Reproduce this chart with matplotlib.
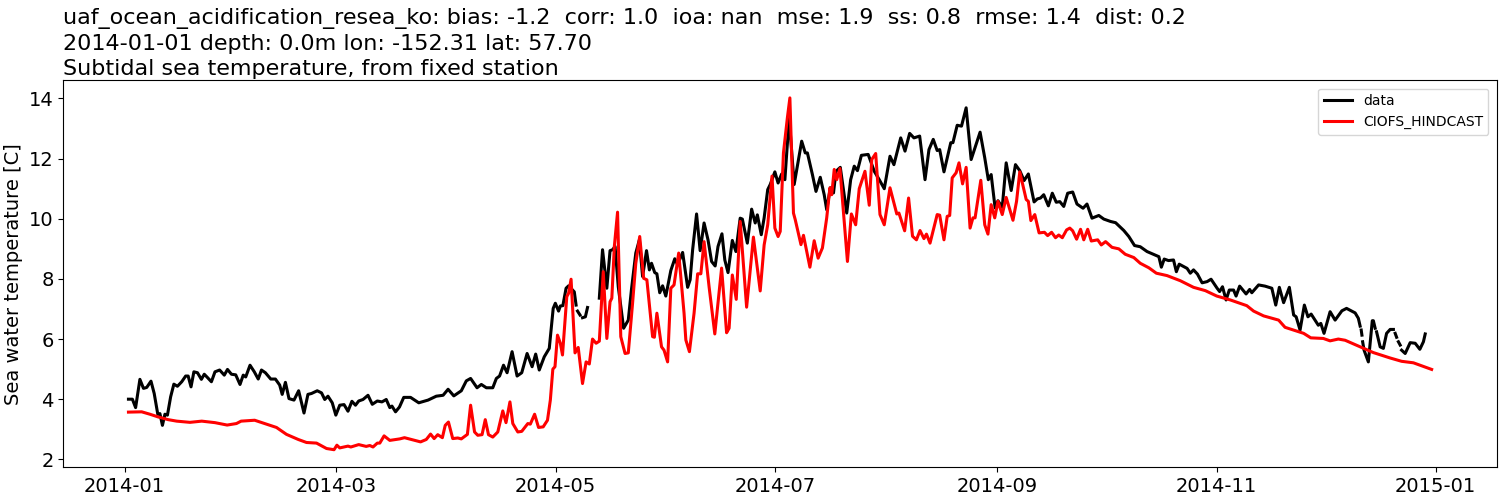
import numpy as np
import matplotlib
matplotlib.use("Agg")
import matplotlib.pyplot as plt
import matplotlib.dates as mdates
from datetime import datetime, timedelta

nan = float("nan")
start_date = datetime(2014, 1, 1)
# calibration of the day values
day_offset = 0.6
day_scale = 0.9953

data_days = [0.5,1.6,2.5,3.7,4.7,5.6,6.8,7.7,8.7,9.3,10,10.7,11.4,12.3,13.2,14.2,15.4,16.5,17.2,18,18.8,19.8,20.9,21.7,22.6,23.7,24.7,26,27.3,28.2,29.3,30.5,31.7,32.6,33.3,34.5,35.7,36.8,37.7,38.8,40.3,41.6,42.8,43.5,44.4,45.4,46.8,48.1,49.6,50.7,51.7,53.3,54.5,55.4,56.3,57.5,58.5,59.6,60.8,61.9,63,64,64.9,66.1,67.5,68.7,70.1,71.4,72.6,73.6,74.2,75.2,76.3,77.5,79.4,81.7,84.3,86.6,88.5,89.9,91.5,93.6,95,96.2,98,99.2,100.6,102.4,103.4,104.3,105.4,106.4,107.8,109.2,110.5,112,113.4,114.4,115.4,116.8,118.2,119.3,119.9,120.8,121.3,122,122.9,123.6,125.2,125.7,125.9,126.1,126.8,127.1,127.5,128.3,128.9,130,132.2,133.1,134.3,135.2,135.9,136.6,137.5,139,140.3,141.2,142.4,143.4,144.3,145.4,146.2,146.8,147.7,148.3,149.1,149.9,150.8,152.2,153.3,154.1,155.5,156.9,157.6,158.3,159.4,160.4,161.5,162.6,163.6,164.6,165.4,166.5,167.3,168.2,169.4,170.4,171.6,172.2,173.6,174.8,175.8,176.4,177.5,178.3,179.3,180,181.3,182.2,183.2,184.1,185.3,186.7,188.8,189.8,190.4,191.8,192.8,194,195.1,195.8,196.8,197.7,198.4,199.6,201.4,202.5,203.5,204.4,205.5,207.4,209.1,210.5,211.9,213.5,214.6,216.5,217.7,219,220.2,221.8,223.3,224.4,225.6,226.7,227.4,228.6,230.5,231.1,232.3,233.5,234.8,236.2,238.7,240,241,241.8,242.9,243.7,244.9,246,247.4,248.6,249.8,251,252.2,253.8,254.7,255.6,256.5,257.8,258.9,260,261,262.1,263.2,264.6,265.8,267.5,268.6,270,271.9,273.3,275.2,276.6,278.9,280.3,281.9,283.5,285.4,288.7,289.4,290.2,291.4,292.8,293.6,294.4,296.6,297.5,298.4,299.5,300.8,302.2,303.3,305,305.7,306.5,307.5,308.4,309.6,310.3,311.3,313.1,314.1,314.7,316.6,318.4,320.3,321.4,322.4,323.6,325.2,326.4,327.1,328.2,329.4,330.4,331.3,333.3,334,334.9,336.6,338,339.9,341.2,343.6,344.5,345,345.15,345.3,345.5,345.6,345.7,346.1,347.3,348.4,348.7,349.2,349.4,349.6,350.6,351.5,352.4,353.4,354.3,354.55,354.8,355.2,355.45,355.7,356.2,356.4,356.6,357.6,359,360.4,361.7,362.7,363.2]
data_temp = [4.0,4.0,3.72,4.66,4.36,4.39,4.6,4.19,3.5,3.52,3.13,3.5,3.47,4.08,4.5,4.43,4.58,4.77,4.77,4.41,4.91,4.88,4.66,4.83,4.72,4.58,4.91,4.97,4.8,4.99,4.83,4.81,4.49,4.8,4.74,5.13,4.91,4.67,4.97,4.88,4.67,4.67,4.47,4.16,4.56,4.02,3.97,4.28,3.54,4.16,4.19,4.28,4.21,3.99,4.1,3.88,3.47,3.8,3.82,3.6,3.93,3.8,3.94,3.99,4.13,3.83,3.94,3.91,3.99,3.72,3.77,3.58,3.74,4.06,4.06,3.88,3.97,4.1,4.13,4.33,4.11,4.28,4.61,4.69,4.38,4.49,4.38,4.38,4.69,4.77,5.13,4.88,5.58,4.77,4.88,5.52,5.08,5.5,4.97,5.41,5.69,7.02,7.19,6.93,7.1,7.11,7.69,7.77,7.57,7.13,nan,6.93,6.8,nan,6.71,6.74,7.05,nan,7.36,8.97,7.69,8.94,8.97,9.08,7.74,6.36,6.63,7.66,8.86,9.3,8.08,8.94,8.3,8.52,8.21,8.17,7.54,7.77,7.43,8.28,8.67,8.47,8.88,7.72,7.97,8.97,10.16,8.94,9.86,9.3,8.58,8.43,9.08,9.5,8.63,8.21,9.28,8.91,10.02,9.99,9.19,10.32,9.86,10.13,9.47,10.03,10.97,11.14,11.56,11.19,11.49,11.3,13.36,11.14,12.58,12.19,12.19,11.47,10.91,11.38,10.8,10.3,11.03,10.86,11.58,11.71,10.19,11.3,11.75,11.6,12.11,12.14,11.58,11.3,11,12.08,11.8,12.69,12.25,12.84,12.69,12.75,11.3,12.3,12.64,12.27,12.3,11.56,12.53,12.53,13.11,13.08,13.69,11.97,12.88,12.03,11.3,11.47,10.36,10.6,10.38,11.86,10.94,11.8,11.6,11.27,11.49,10.56,10.66,10.69,10.8,10.43,10.85,10.55,10.57,10.41,10.85,10.89,10.49,10.35,10.49,10.02,10.11,9.99,9.91,9.87,9.61,9.41,9.11,9.07,8.91,8.74,8.39,8.66,8.61,8.63,8.24,8.49,8.35,8.19,8.3,8.16,7.87,7.91,7.99,7.69,7.58,7.74,7.3,7.63,7.63,7.43,7.76,7.5,7.65,7.54,7.8,7.76,7.69,7.13,7.72,7.21,7.72,6.8,6.74,6.3,7.13,6.74,6.83,6.46,6.52,6.19,6.91,6.63,6.94,7.02,6.87,6.69,6.43,nan,6.3,6.13,nan,5.91,5.63,5.24,6.61,6.61,6.36,nan,6.24,5.74,5.69,6.19,6.32,6.32,nan,6.19,6.06,nan,5.91,5.8,nan,5.63,5.52,5.88,5.86,5.66,5.91,6.17]

model_days = [0.5,4.2,6.5,8.8,11.6,14,17.7,21,24.7,28.1,30.7,32,35.8,38.6,41.9,44.7,48,50.3,53.1,55.9,58,58.8,59.6,61.9,62.7,64.9,67,68,68.9,70.1,70.8,72,73.6,76.4,77.7,79.6,82.2,83.8,85,86,87,88.3,89.1,90,91.2,92.6,93.6,95.3,96.2,97.3,98.2,99.4,100.3,101.2,102.4,103.8,105.2,106.1,107.2,108,109.4,110.5,112.2,112.9,114.1,115.2,116.5,117.7,118.5,119.2,119.8,120.5,121.3,121.9,123.1,123.6,124.3,125.4,126.3,127.5,128.5,129.4,130.3,131.3,132.2,133.3,134.3,135.2,135.7,136.4,137.3,138.2,139.4,140.3,141.5,142.4,143.5,144.6,145.5,147.1,147.6,148.3,149.6,150.3,151.3,152.2,153.1,154.4,155.9,156.4,157.4,158.7,159.7,160.6,161.5,162.9,164.5,166.4,167.8,168.5,169.4,170.5,171.6,173.4,175.3,177.2,178.3,179.3,180.5,181.3,182.2,182.8,183.7,184.8,185.5,186.5,187,188.6,189.3,191.1,192.3,193.4,194.6,195.8,196.7,197.2,197.9,198.6,199.5,201.6,202.7,203.9,204.9,206.5,207.7,208.4,209.5,210.7,211.9,213.5,215.4,216,217.6,218.7,219.8,220.9,221.9,223,223.7,224.7,226.7,227.4,228.6,229.5,230.2,230.9,232,232.8,233.8,234.8,235.9,236.7,237.3,238.9,240,240.9,241.8,242.8,243.7,244.9,246,247.9,248.9,249.8,251.6,252.2,252.9,254,255.2,256.7,257.6,258.7,259.8,260.7,261.7,262.9,263.8,264.6,265.7,266.8,267.7,268.8,269.8,271.6,272.6,273.8,275.6,277.5,279.3,281.7,283.5,285.9,288,291,294.7,298.4,301.7,304.9,308.7,313.3,315.2,318,322.2,324,329.2,331.2,334.7,336.6,338.9,340.8,345,348.7,353.4,356.6,359.9,363.1,365]
model_temp = [3.57,3.58,3.5,3.41,3.32,3.27,3.23,3.27,3.22,3.14,3.19,3.27,3.3,3.19,3.06,2.83,2.66,2.56,2.54,2.36,2.32,2.47,2.38,2.44,2.41,2.49,2.43,2.46,2.41,2.54,2.54,2.78,2.63,2.68,2.72,2.66,2.58,2.66,2.84,2.69,2.82,2.72,3.13,3.24,2.69,2.71,2.68,2.83,3.8,2.91,2.8,2.82,3.32,2.82,2.74,2.91,3.61,3.22,3.91,3.19,2.91,2.93,3.19,3.17,3.5,3.06,3.08,3.3,3.97,5.0,5.08,6.13,5.86,5.47,7.41,7.52,7.99,5.54,5.72,4.52,5.24,5.17,6.0,5.86,5.93,8.24,6.02,7.24,7.36,9.08,10.22,6.08,5.52,5.54,7.19,8.52,9.41,8.02,7.97,6.08,6.06,6.86,5.74,5.63,5.24,7.69,7.8,8.86,6.86,5.97,5.58,6.86,8.17,8.17,9.24,7.74,6.17,8.36,6.21,6.36,8.13,7.32,9.91,7.06,9.39,7.6,9.13,9.8,11.42,9.69,9.41,9.58,12.19,13.36,14.02,10.19,9.97,9.14,9.45,8.39,9.27,8.69,9.03,10.03,11.03,10.8,11.64,11.3,11.67,8.58,10.16,9.8,11.0,11.58,10.45,11.97,12.17,10.14,9.8,11.03,10.16,10.19,9.6,10.69,9.42,9.3,9.61,9.34,9.49,9.19,10.14,10.12,9.3,10.08,10.11,11.36,11.53,11.86,11.16,11.71,9.69,10.03,10.03,11.28,9.8,9.49,10.47,10.03,10.58,10.14,10.71,9.95,10.58,11.56,10.64,10.58,9.94,10.14,9.53,9.55,9.44,9.55,9.37,9.46,9.37,9.63,9.69,9.6,9.32,9.65,9.3,9.65,9.26,9.3,9.13,9.24,9.05,9.0,8.82,8.71,8.52,8.37,8.19,8.11,7.94,7.72,7.61,7.43,7.3,7.11,6.93,6.77,6.63,6.39,6.19,6.04,6.02,5.94,6.0,5.96,5.74,5.55,5.37,5.26,5.21,5.07,4.99]

title_lines = [
    "uaf_ocean_acidification_resea_ko: bias: -1.2  corr: 1.0  ioa: nan  mse: 1.9  ss: 0.8  rmse: 1.4  dist: 0.2",
    "2014-01-01 depth: 0.0m lon: -152.31 lat: 57.70",
    "Subtidal sea temperature, from fixed station",
]


def to_dates(days):
    return [start_date + timedelta(days=day_offset + day_scale * float(d)) for d in days]


fig, ax = plt.subplots(figsize=(15, 5), dpi=100)
ax.plot(to_dates(data_days), data_temp, color="k", lw=2.2, label="data")
ax.plot(to_dates(model_days), model_temp, color="r", lw=2.2, label="CIOFS_HINDCAST")

ax.xaxis.set_major_locator(mdates.MonthLocator(interval=2))
ax.xaxis.set_major_formatter(mdates.DateFormatter("%Y-%m"))
ax.tick_params(labelsize=14)
ax.set_ylabel("Sea water temperature [C]", fontsize=14)
ax.set_title("\n".join(title_lines), loc="left", fontsize=16, pad=4, linespacing=1.32)
ax.legend(loc="upper right", fontsize=10, borderaxespad=0.6)

fig.subplots_adjust(left=63.3 / 1500, right=1496.8 / 1500, top=1 - 80.3 / 500, bottom=1 - 467.3 / 500)
fig.savefig("out.png", dpi=100)
